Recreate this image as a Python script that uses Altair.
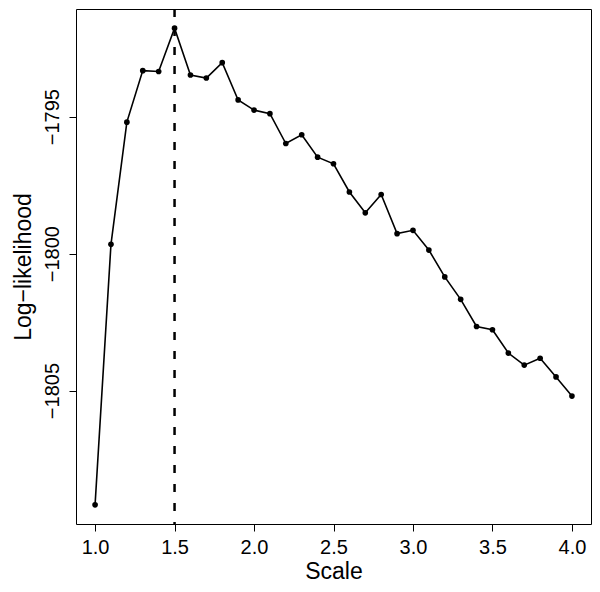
import altair as alt
import pandas as pd

scale = [1.0, 1.1, 1.2, 1.3, 1.4, 1.5, 1.6, 1.7, 1.8, 1.9, 2.0,
         2.1, 2.2, 2.3, 2.4, 2.5, 2.6, 2.7, 2.8, 2.9, 3.0,
         3.1, 3.2, 3.3, 3.4, 3.5, 3.6, 3.7, 3.8, 3.9, 4.0]
loglik = [-1809.17, -1799.66, -1795.20, -1793.32, -1793.35, -1791.77,
          -1793.48, -1793.59, -1793.03, -1794.39, -1794.76,
          -1794.89, -1795.98, -1795.66, -1796.48, -1796.72,
          -1797.75, -1798.51, -1797.84, -1799.27, -1799.15,
          -1799.87, -1800.85, -1801.67, -1802.66, -1802.78,
          -1803.63, -1804.07, -1803.82, -1804.50, -1805.20]
best_scale = [1.5]
x_ticks = [1.0, 1.5, 2.0, 2.5, 3.0, 3.5, 4.0]
y_ticks = [-1805, -1800, -1795]

df = pd.DataFrame({"Scale": scale, "LogLik": loglik})
vdf = pd.DataFrame({"best": best_scale})

FONT = "Liberation Sans"

xscale = alt.Scale(domain=[0.88, 4.12], nice=False, zero=False)
yscale = alt.Scale(domain=[-1809.87, -1791.07], nice=False, zero=False)

xaxis = alt.Axis(values=x_ticks, format=".1f", title="Scale",
                 titleY=54, titleBaseline="alphabetic",
                 labelPadding=6, labelFlush=False)
yaxis = alt.Axis(values=y_ticks, title="Log\u2212likelihood",
                 labelExpr="'\u2212' + format(abs(datum.value), 'd')",
                 labelAngle=270, labelAlign="center", labelBaseline="bottom",
                 labelPadding=7, titleX=-46, titleBaseline="alphabetic",
                 titleAngle=270)

line = alt.Chart(df).mark_line(color="black", strokeWidth=1.6).encode(
    x=alt.X("Scale:Q", scale=xscale, axis=xaxis),
    y=alt.Y("LogLik:Q", scale=yscale, axis=yaxis),
)
pts = alt.Chart(df).mark_circle(color="black", opacity=1, size=32).encode(
    x=alt.X("Scale:Q", scale=xscale),
    y=alt.Y("LogLik:Q", scale=yscale),
)
vline = alt.Chart(vdf).mark_rule(color="black", strokeWidth=2.5,
                                 strokeDash=[8, 11]).encode(
    x=alt.X("best:Q", scale=xscale),
)

chart = alt.layer(vline, line, pts).properties(
    width=515, height=515,
    background="white",
    autosize=alt.AutoSizeParams(type="none"),
    padding={"left": 68, "top": 1, "right": 1, "bottom": 60},
).configure_view(
    stroke="black", strokeWidth=1, fill="white"
).configure_axis(
    domain=False, grid=False, tickColor="black", tickSize=7, tickWidth=1,
    labelColor="black", labelFont=FONT, labelFontSize=20,
    titleColor="black", titleFont=FONT, titleFontSize=23,
    titleFontWeight="normal",
)

chart.save("out.html", embed_options={"renderer": "svg", "actions": False})
